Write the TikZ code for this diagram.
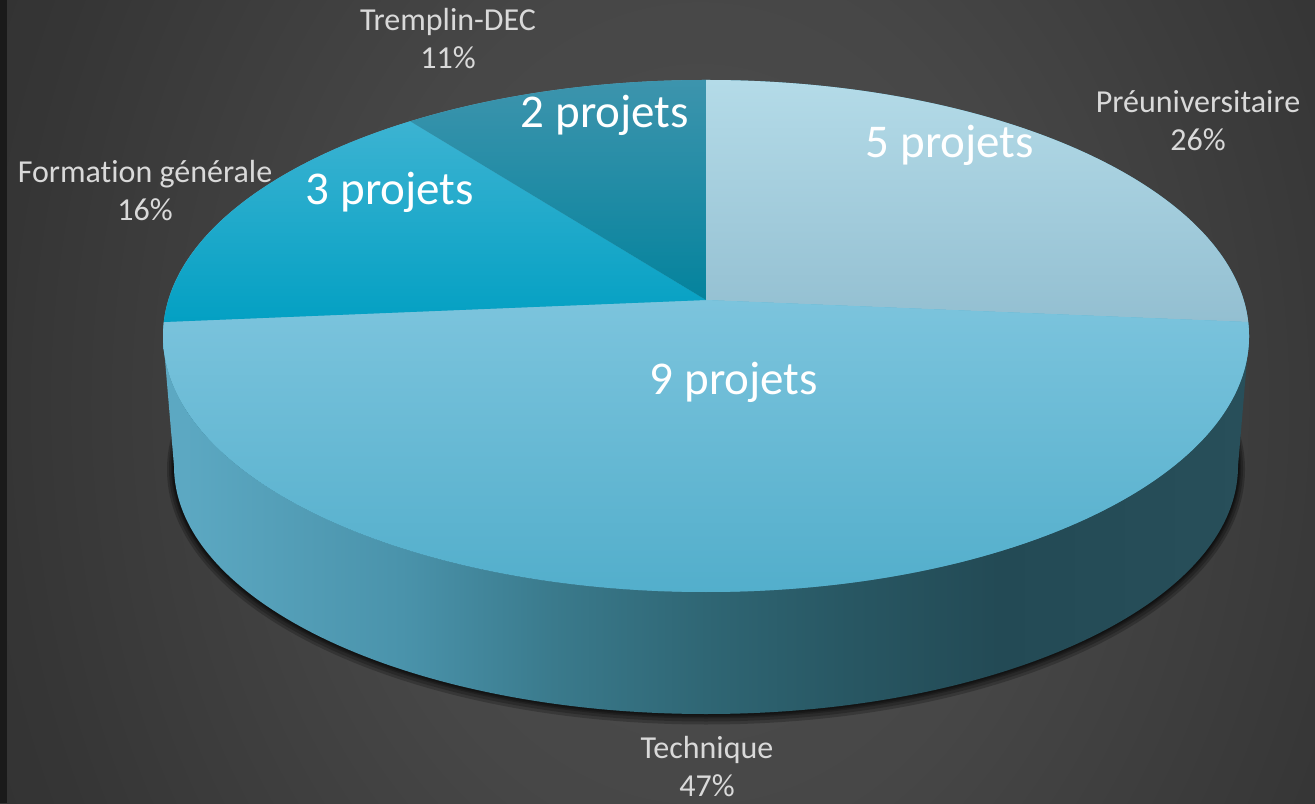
\documentclass[tikz,border=0pt]{standalone}
\usepackage{fontspec}
\setmainfont{Carlito}[Ligatures=NoCommon]
\usetikzlibrary{calc}
\definecolor{bgA}{HTML}{4E4E4E}
\definecolor{bgB}{HTML}{474747}
\definecolor{bgC}{HTML}{353535}
\definecolor{bgD}{HTML}{2C2C2C}
\definecolor{strip}{HTML}{1A1A1A}
\definecolor{sw0}{HTML}{5CA8C2}
\definecolor{sw1}{HTML}{4A93AB}
\definecolor{sw2}{HTML}{3A7A8C}
\definecolor{sw3}{HTML}{2F6674}
\definecolor{sw4}{HTML}{285763}
\definecolor{sw5}{HTML}{234A55}
\definecolor{sw6}{HTML}{284F5A}
\definecolor{preA}{HTML}{B4DBE8}
\definecolor{preB}{HTML}{93BFD1}
\definecolor{tecA}{HTML}{7CC4DD}
\definecolor{tecB}{HTML}{52AECB}
\definecolor{forA}{HTML}{3CB3D2}
\definecolor{forB}{HTML}{03A0C3}
\definecolor{treA}{HTML}{3D94AD}
\definecolor{treB}{HTML}{04839D}
\definecolor{topbase}{HTML}{5AB5D2}
\definecolor{labgray}{HTML}{D9D9D9}
\pgfdeclareradialshading{bgshade}{\pgfpoint{0bp}{0bp}}{color(0bp)=(bgA); color(12bp)=(bgB); color(25bp)=(bgC); color(36bp)=(bgD); color(50bp)=(bgD)}
\pgfdeclarehorizontalshading{sidewall}{100bp}{color(0bp)=(sw0); color(26bp)=(sw0); color(36bp)=(sw1); color(43bp)=(sw2); color(50bp)=(sw3); color(56.5bp)=(sw4); color(63.5bp)=(sw5); color(75bp)=(sw6); color(100bp)=(sw6)}
\begin{document}
\begin{tikzpicture}[x=0.5pt,y=0.5pt,
  lab/.style={font=\fontsize{16}{19}\selectfont, text=labgray, align=center, inner sep=0pt},
  big/.style={font=\fontsize{23.5}{28}\selectfont, text=white, inner sep=0pt, anchor=base}]
\useasboundingbox (0,0) rectangle (1315,803);
\begin{scope}
  \clip (0,0) rectangle (1315,803);
  \shade[shading=bgshade] (0,-500) rectangle (1400,1300);
  \fill[strip] (0,0) rectangle (7,803);
\end{scope}
% geometry
\coordinate (C) at (706,467);
\coordinate (Cb) at (706,337);
\coordinate (P) at (706,503);
\coordinate (rTop) at ($(C)+(90:543 and 256)$);
\coordinate (rR) at ($(C)+(3.13:543 and 256)$);
\coordinate (rL) at ($(C)+(176.87:543 and 256)$);
\coordinate (rF) at ($(C)+(123:543 and 256)$);
\coordinate (sL) at ($(C)+(180:543 and 256)$);
\coordinate (bR) at ($(Cb)+(0:532 and 248)$);
% shadow
\foreach \i in {7,5,3,2,1}{
  \fill[black,opacity=0.22] ($(Cb)+(0,-0.5*\i)$) ellipse [x radius=532+\i, y radius=248+\i];
}
% side wall
\shade[shading=sidewall] (sL) arc[start angle=180,end angle=360,x radius=543,y radius=256]
  -- (bR) arc[start angle=0,end angle=-180,x radius=532,y radius=248] -- cycle;
% top face
\fill[topbase] (C) ellipse [x radius=543, y radius=256];
\shade[top color=preA, bottom color=preB] (P) -- (rTop) arc[start angle=90,end angle=3.13,x radius=543,y radius=256] -- cycle;
\shade[top color=tecA, bottom color=tecB] (P) -- (rR) arc[start angle=3.13,end angle=-183.13,x radius=543,y radius=256] -- cycle;
\shade[top color=forA, bottom color=forB] (P) -- (rL) arc[start angle=176.87,end angle=123,x radius=543,y radius=256] -- cycle;
\shade[top color=treA, bottom color=treB] (P) -- (rF) arc[start angle=123,end angle=90,x radius=543,y radius=256] -- cycle;
% labels
\node[lab] (lTre) at (448,764) {Tremplin-DEC\\11\%};
\node[lab] (lFor) at (145,612) {Format\kern0pt ion générale\\16\%};
\node[lab] (lPre) at (1198,682) {Préuniversitaire\\26\%};
\node[lab] (lTec) at (707,36) {Technique\\47\%};
\node[big] (bTre) at (605,675) {2 projets};
\node[big] (bFor) at (390,598) {3 projets};
\node[big] (bPre) at (950,645) {5 projets};
\node[big] (bTec) at (734,408) {9 projets};
\end{tikzpicture}
\end{document}
